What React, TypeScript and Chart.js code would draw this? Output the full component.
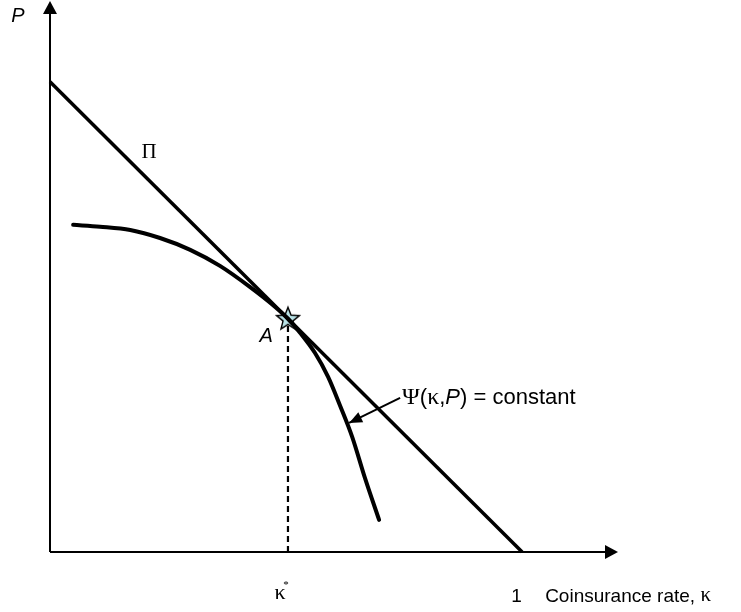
import React, { useEffect, useRef } from "react";
import { Chart, registerables } from "chart.js";
Chart.register(...registerables);

// Data (κ on x, P on y)
const budgetLineK = [0, 1];
const budgetLineP = [0.996, 0];
const curveK = [0.049, 0.106, 0.170, 0.233, 0.297, 0.360, 0.424, 0.477, 0.504, 0.530, 0.561, 0.589, 0.614, 0.640, 0.667, 0.697];
const curveP = [0.693, 0.689, 0.682, 0.665, 0.640, 0.606, 0.561, 0.519, 0.494, 0.464, 0.422, 0.371, 0.311, 0.244, 0.157, 0.068];
const optimumK = [0.504];
const optimumP = [0.494];
const axisMaxK = 1.203;
const axisMaxP = 1.167;
const pointerK = [0.7415, 0.6335];
const pointerP = [0.3263, 0.2733];
const labelPi = [0.2097, 0.847];
const labelA = [0.4576, 0.4576];

function makeStar(): HTMLCanvasElement {
  const c = document.createElement("canvas");
  c.width = 30;
  c.height = 30;
  const ctx = c.getContext("2d")!;
  const cx = 15, cy = 15.5, R = 12, r = 5.2;
  ctx.beginPath();
  for (let i = 0; i < 10; i++) {
    const rad = i % 2 === 0 ? R : r;
    const a = -Math.PI / 2 + (i * Math.PI) / 5;
    const x = cx + rad * Math.cos(a);
    const y = cy + rad * Math.sin(a);
    if (i === 0) ctx.moveTo(x, y);
    else ctx.lineTo(x, y);
  }
  ctx.closePath();
  ctx.fillStyle = "#b9e2e6";
  ctx.fill();
  ctx.lineWidth = 1.4;
  ctx.strokeStyle = "#000";
  ctx.stroke();
  return c;
}

const decorPlugin = {
  id: "decor",
  afterDatasetsDraw(chart: any) {
    const { ctx } = chart;
    const xs = chart.scales.x;
    const ys = chart.scales.y;
    const x0 = xs.getPixelForValue(0);
    const y0 = ys.getPixelForValue(0);
    const xEnd = xs.getPixelForValue(axisMaxK);
    const yEnd = ys.getPixelForValue(axisMaxP);
    ctx.save();
    ctx.fillStyle = "#000";
    // axis arrowheads
    ctx.beginPath();
    ctx.moveTo(xEnd, y0);
    ctx.lineTo(xEnd - 13, y0 - 7);
    ctx.lineTo(xEnd - 13, y0 + 7);
    ctx.closePath();
    ctx.fill();
    ctx.beginPath();
    ctx.moveTo(x0, yEnd);
    ctx.lineTo(x0 - 7, yEnd + 13);
    ctx.lineTo(x0 + 7, yEnd + 13);
    ctx.closePath();
    ctx.fill();
    // pointer arrowhead
    const px1 = xs.getPixelForValue(pointerK[0]);
    const py1 = ys.getPixelForValue(pointerP[0]);
    const px2 = xs.getPixelForValue(pointerK[1]);
    const py2 = ys.getPixelForValue(pointerP[1]);
    const ang = Math.atan2(py2 - py1, px2 - px1);
    const L = 13, W = 5.5;
    ctx.beginPath();
    ctx.moveTo(px2, py2);
    ctx.lineTo(px2 - L * Math.cos(ang) + W * Math.sin(ang), py2 - L * Math.sin(ang) - W * Math.cos(ang));
    ctx.lineTo(px2 - L * Math.cos(ang) - W * Math.sin(ang), py2 - L * Math.sin(ang) + W * Math.cos(ang));
    ctx.closePath();
    ctx.fill();

    // labels
    ctx.textBaseline = "middle";
    ctx.textAlign = "center";
    ctx.font = "italic 20px 'Liberation Sans', Arial, sans-serif";
    ctx.fillText("P", x0 - 32, yEnd + 15);
    ctx.fillText("A", xs.getPixelForValue(labelA[0]), ys.getPixelForValue(labelA[1]));
    ctx.font = "21px 'Liberation Serif', 'Times New Roman', serif";
    ctx.fillText("Π", xs.getPixelForValue(labelPi[0]), ys.getPixelForValue(labelPi[1]));

    // κ* tick label
    const kx = xs.getPixelForValue(optimumK[0]);
    ctx.font = "22px 'Liberation Serif', 'Times New Roman', serif";
    ctx.fillText("κ", kx - 8, y0 + 41);
    ctx.font = "11px 'Liberation Serif', serif";
    ctx.fillText("*", kx - 2, y0 + 33);

    // 1 and axis title
    const onex = xs.getPixelForValue(1);
    ctx.textAlign = "left";
    ctx.font = "19px 'Liberation Sans', Arial, sans-serif";
    ctx.fillText("1", onex - 11, y0 + 45);
    let tx = onex + 23;
    const title = "Coinsurance rate, ";
    ctx.fillText(title, tx, y0 + 45);
    tx += ctx.measureText(title).width;
    ctx.font = "21px 'Liberation Serif', serif";
    ctx.fillText("κ", tx, y0 + 43);

    // Ψ(κ,P) = constant
    let sx = px1 + 2;
    const sy = py1;
    const parts: [string, string][] = [
      ["Ψ", "24px 'Liberation Serif', serif"],
      ["(", "22px 'Liberation Sans', sans-serif"],
      ["κ", "24px 'Liberation Serif', serif"],
      [",", "22px 'Liberation Sans', sans-serif"],
      ["P", "italic 22px 'Liberation Sans', sans-serif"],
      [") = constant", "22px 'Liberation Sans', sans-serif"],
    ];
    for (const [t, f] of parts) {
      ctx.font = f;
      ctx.fillText(t, sx, sy);
      sx += ctx.measureText(t).width;
    }
    ctx.restore();
  },
};

export default function App() {
  const ref = useRef<HTMLCanvasElement | null>(null);
  useEffect(() => {
    if (!ref.current) return;
    const star = makeStar();
    const chart = new Chart(ref.current, {
      type: "scatter",
      data: {
        datasets: [
          {
            label: "κ axis",
            data: [{ x: 0, y: 0 }, { x: axisMaxK - 0.02, y: 0 }],
            showLine: true,
            borderColor: "#000",
            borderWidth: 2,
            pointRadius: 0,
            clip: false,
          },
          {
            label: "P axis",
            data: [{ x: 0, y: 0 }, { x: 0, y: axisMaxP - 0.02 }],
            showLine: true,
            borderColor: "#000",
            borderWidth: 2,
            pointRadius: 0,
            clip: false,
          },
          {
            label: "Π",
            data: budgetLineK.map((k, i) => ({ x: k, y: budgetLineP[i] })),
            showLine: true,
            borderColor: "#000",
            borderWidth: 3.5,
            pointRadius: 0,
            clip: false,
          },
          {
            label: "Ψ",
            data: curveK.map((k, i) => ({ x: k, y: curveP[i] })),
            showLine: true,
            borderColor: "#000",
            borderWidth: 4,
            borderCapStyle: "round",
            cubicInterpolationMode: "monotone",
            pointRadius: 0,
            clip: false,
          },
          {
            label: "κ*",
            data: [{ x: optimumK[0], y: 0 }, { x: optimumK[0], y: optimumP[0] - 0.015 }],
            showLine: true,
            borderColor: "#000",
            borderWidth: 2.2,
            borderDash: [6, 4],
            pointRadius: 0,
            clip: false,
          },
          {
            label: "pointer",
            data: pointerK.map((k, i) => ({ x: k, y: pointerP[i] })),
            showLine: true,
            borderColor: "#000",
            borderWidth: 2,
            pointRadius: 0,
            clip: false,
          },
          {
            label: "A",
            data: optimumK.map((k, i) => ({ x: k, y: optimumP[i] })),
            pointStyle: star as any,
            pointRadius: 12,
            showLine: false,
            clip: false,
          },
        ],
      },
      options: {
        responsive: false,
        animation: false,
        events: [],
        layout: { autoPadding: false, padding: { left: 50, right: 123, top: 1, bottom: 60 } },
        plugins: { legend: { display: false }, tooltip: { enabled: false } },
        scales: {
          x: { type: "linear", min: 0, max: axisMaxK, display: false },
          y: { type: "linear", min: 0, max: axisMaxP, display: false },
        },
      },
      plugins: [decorPlugin],
    });
    return () => chart.destroy();
  }, []);
  return (
    <div style={{ position: "fixed", left: 0, top: 0, width: 741, height: 612, background: "#fff" }}>
      <canvas ref={ref} width={741} height={612} style={{ width: 741, height: 612 }} />
    </div>
  );
}
